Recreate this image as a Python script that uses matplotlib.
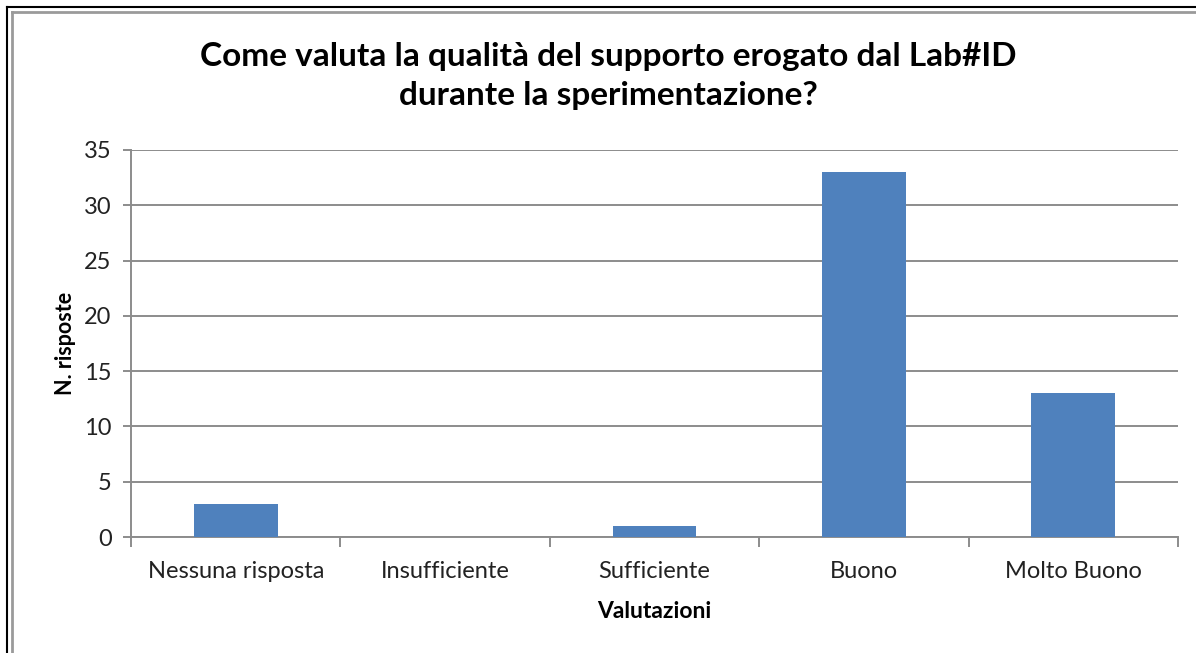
import matplotlib
matplotlib.use('Agg')
from matplotlib import pyplot as plt
from matplotlib.lines import Line2D
import numpy as np

categories = ['Nessuna risposta', 'Insufficiente', 'Sufficiente', 'Buono', 'Molto Buono']
risposte = [3, 0, 1, 33, 13]
y_ticks = [0, 5, 10, 15, 20, 25, 30, 35]

plt.rcParams['font.family'] = ['Lato', 'DejaVu Sans']

fig = plt.figure(figsize=(11.96, 6.53), dpi=100)
ax = fig.add_axes([131 / 1196, 1 - 537 / 653, (1178 - 131) / 1196, (537 - 150) / 653])

x = np.arange(len(categories))
ax.bar(x, risposte, width=0.4, color='#4F81BD', zorder=3)

grid_col = '#8c8c8c'
ax.set_xlim(-0.5, len(categories) - 0.5)
ax.set_ylim(0, 35)
ax.set_yticks(y_ticks)
ax.yaxis.grid(True, color=grid_col, linewidth=1.4)
ax.set_axisbelow(True)

# category ticks sit on the boundaries
ax.set_xticks(np.arange(-0.5, len(categories)), minor=False)
ax.set_xticklabels([])
ax.set_xticks(x, minor=True)
ax.set_xticklabels(categories, minor=True, fontsize=17, color='#222222')
ax.tick_params(axis='x', which='minor', length=0, pad=17)
ax.tick_params(axis='x', which='major', length=7, width=1.4, color=grid_col)
ax.tick_params(axis='y', length=6, width=1.4, color=grid_col, labelsize=17,
               labelcolor='#222222', pad=8)

for side in ['top', 'right']:
    ax.spines[side].set_visible(False)
for side in ['left', 'bottom']:
    ax.spines[side].set_color(grid_col)
    ax.spines[side].set_linewidth(1.4)

ax.set_ylabel('N. risposte', fontsize=15.5, fontweight='bold', labelpad=6)
ax.set_xlabel('Valutazioni', fontsize=16.5, fontweight='bold', labelpad=14)

fig.text(608 / 1196, 1 - 76 / 653,
         'Come valuta la qualità del supporto erogato dal Lab#ID\ndurante la sperimentazione?',
         ha='center', va='center', fontsize=24, fontweight='bold', linespacing=1.45)

# outer frame: black line plus grey inner line (right/bottom cut off)
fig.add_artist(Line2D([7 / 1196, 7 / 1196], [0, 1 - 7 / 653], color='black', linewidth=1.5,
                      transform=fig.transFigure))
fig.add_artist(Line2D([7 / 1196, 1], [1 - 7 / 653, 1 - 7 / 653], color='black', linewidth=1.5,
                      transform=fig.transFigure))
fig.add_artist(Line2D([11.5 / 1196, 11.5 / 1196], [0, 1 - 12 / 653], color='#9a9a9a', linewidth=2,
                      transform=fig.transFigure))
fig.add_artist(Line2D([11.5 / 1196, 1], [1 - 12 / 653, 1 - 12 / 653], color='#9a9a9a', linewidth=2,
                      transform=fig.transFigure))

fig.savefig('out.png', dpi=100)
